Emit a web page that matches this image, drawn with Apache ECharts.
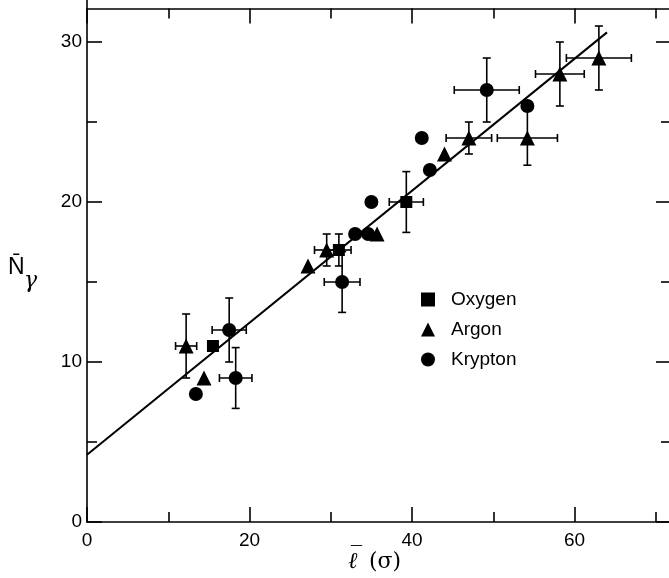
<!DOCTYPE html>
<html><head><meta charset="utf-8">
<script src="https://cdn.jsdelivr.net/npm/echarts@6/dist/echarts.min.js"></script>
<style>html,body{margin:0;padding:0;background:#fff}#c{width:669px;height:578px}</style>
</head><body><div id="c"></div>
<script>
// ---- data ----
const xTickLabels = [0, 20, 40, 60];
const yTickLabels = [0, 10, 20, 30];

const oxygenX    = [15.5, 31.0, 39.3];
const oxygenY    = [11, 17, 20];
const oxygenXErr = [0, 1.5, 2.1];
const oxygenYErr = [0, 1, 1.9];

const argonX    = [12.2, 14.4, 27.2, 29.5, 35.7, 44.0, 47.0, 54.2, 58.2, 63.0];
const argonY    = [11, 9, 16, 17, 18, 23, 24, 24, 28, 29];
const argonXErr = [1.3, 0, 0, 1.5, 0, 0, 2.8, 3.7, 3, 4];
const argonYErr = [2, 0, 0, 1, 0, 0, 1, 1.7, 2, 2];

const kryptonX    = [13.4, 17.5, 18.3, 31.4, 33.0, 34.6, 35.0, 41.2, 42.2, 49.2, 54.2];
const kryptonY    = [8, 12, 9, 15, 18, 18, 20, 24, 22, 27, 26];
const kryptonXErr = [0, 2.1, 2, 2.2, 0, 0, 0, 0, 0, 4, 0];
const kryptonYErr = [0, 2, 1.9, 1.9, 0, 0, 0, 0, 0, 2, 0];

const fitX = [0, 64];
const fitY = [4.2, 30.6];

const seriesNames = ['Oxygen', 'Argon', 'Krypton'];

// ---- chart ----
const FONT = '"Liberation Sans", Arial, sans-serif';
const BLACK = '#000';

function pairs(xs, ys) { return xs.map((x, i) => [x, ys[i]]); }

function errSeries(xs, ys, xe, ye) {
  return {
    type: 'custom', silent: true, clip: false, z: 1,
    encode: { x: 0, y: 1 },
    data: xs.map((x, i) => [x, ys[i], xe[i], ye[i]]),
    renderItem: function (params, api) {
      const x = api.value(0), y = api.value(1), dx = api.value(2), dy = api.value(3);
      const st = { stroke: BLACK, lineWidth: 1.6 };
      const cap = 4;
      const ch = [];
      if (dx > 0) {
        const a = api.coord([x - dx, y]), b = api.coord([x + dx, y]);
        ch.push({ type: 'line', shape: { x1: a[0], y1: a[1], x2: b[0], y2: b[1] }, style: st });
        ch.push({ type: 'line', shape: { x1: a[0], y1: a[1] - cap, x2: a[0], y2: a[1] + cap }, style: st });
        ch.push({ type: 'line', shape: { x1: b[0], y1: b[1] - cap, x2: b[0], y2: b[1] + cap }, style: st });
      }
      if (dy > 0) {
        const a = api.coord([x, y - dy]), b = api.coord([x, y + dy]);
        ch.push({ type: 'line', shape: { x1: a[0], y1: a[1], x2: b[0], y2: b[1] }, style: st });
        ch.push({ type: 'line', shape: { x1: a[0] - cap, y1: a[1], x2: a[0] + cap, y2: a[1] }, style: st });
        ch.push({ type: 'line', shape: { x1: b[0] - cap, y1: b[1], x2: b[0] + cap, y2: b[1] }, style: st });
      }
      return { type: 'group', children: ch };
    }
  };
}

const lineStyleAx = { color: BLACK, width: 1.6 };
function xAx(pos, extra) {
  return Object.assign({
    type: 'value', position: pos, min: 0, max: 80, interval: 20,
    axisLine: { show: true, onZero: false, lineStyle: lineStyleAx },
    axisTick: { show: true, inside: true, length: 15, lineStyle: lineStyleAx },
    minorTick: { show: true, splitNumber: 2, length: 10, lineStyle: lineStyleAx },
    splitLine: { show: false }, minorSplitLine: { show: false },
    axisLabel: { show: false }
  }, extra);
}
function yAx(pos, extra) {
  return Object.assign({
    type: 'value', position: pos, min: 0, max: 40, interval: 10,
    axisLine: { show: true, onZero: false, lineStyle: lineStyleAx },
    axisTick: { show: true, inside: true, length: 15, lineStyle: lineStyleAx },
    minorTick: { show: true, splitNumber: 2, length: 10, lineStyle: lineStyleAx },
    splitLine: { show: false }, minorSplitLine: { show: false },
    axisLabel: { show: false }
  }, extra);
}

const chart = echarts.init(document.getElementById('c'), null, { renderer: 'canvas' });
chart.setOption({
  backgroundColor: '#fff',
  animation: false,
  grid: { left: 87, right: -68, top: -118, bottom: 56, containLabel: false, outerBoundsMode: 'none' },
  xAxis: [
    xAx('bottom', { axisLabel: { show: true, color: BLACK, fontSize: 19, fontFamily: FONT, margin: 9,
      formatter: v => (xTickLabels.indexOf(v) >= 0 ? String(v) : '') } }),
    xAx('top', { offset: -126.5 })
  ],
  yAxis: [
    yAx('left', { axisLabel: { show: true, color: BLACK, fontSize: 19, fontFamily: FONT, margin: 5,
      formatter: v => (yTickLabels.indexOf(v) >= 0 ? String(v) : '') } }),
    yAx('right', { offset: -66 })
  ],
  legend: {
    orient: 'vertical', left: 421, top: 290, itemWidth: 14, itemHeight: 14, itemGap: 11,
    padding: 0, selectedMode: false,
    textStyle: { color: BLACK, fontSize: 19, fontFamily: FONT, padding: [0, 0, 0, 11] },
    data: [
      { name: seriesNames[0], icon: 'rect', itemStyle: { color: BLACK } },
      { name: seriesNames[1], icon: 'triangle', itemStyle: { color: BLACK } },
      { name: seriesNames[2], icon: 'circle', itemStyle: { color: BLACK } }
    ]
  },
  graphic: [
    { type: 'text', left: 8, top: 256, style: { text: 'N\u0304', fill: BLACK, fontSize: 23, fontFamily: FONT } },
    { type: 'text', left: 24, top: 270, style: { text: '\u03b3', fill: BLACK, fontSize: 22, fontStyle: 'italic', fontFamily: '"DejaVu Serif", serif' } },
    { type: 'text', left: 348, top: 551, style: { text: '\u2113', fill: BLACK, fontSize: 23, fontStyle: 'italic', fontFamily: '"DejaVu Serif", serif' } },
    { type: 'text', left: 351, top: 544, style: { text: '\u00af', fill: BLACK, fontSize: 20, fontFamily: FONT } },
    { type: 'text', left: 369, top: 551, style: { text: '(\u03c3)', fill: BLACK, fontSize: 22, fontFamily: '"DejaVu Serif", serif' } }
  ],
  series: [
    { type: 'line', name: 'fit', data: pairs(fitX, fitY), symbol: 'none', silent: true,
      lineStyle: { color: BLACK, width: 2 }, z: 1 },
    errSeries(oxygenX, oxygenY, oxygenXErr, oxygenYErr),
    errSeries(argonX, argonY, argonXErr, argonYErr),
    errSeries(kryptonX, kryptonY, kryptonXErr, kryptonYErr),
    { type: 'scatter', name: seriesNames[0], data: pairs(oxygenX, oxygenY), symbol: 'rect', symbolSize: 12,
      itemStyle: { color: BLACK, opacity: 1 }, z: 3 },
    { type: 'scatter', name: seriesNames[1], data: pairs(argonX, argonY), symbol: 'triangle', symbolSize: 15,
      itemStyle: { color: BLACK, opacity: 1 }, z: 3 },
    { type: 'scatter', name: seriesNames[2], data: pairs(kryptonX, kryptonY), symbol: 'circle', symbolSize: 14,
      itemStyle: { color: BLACK, opacity: 1 }, z: 3 }
  ]
});
</script>
</body></html>
